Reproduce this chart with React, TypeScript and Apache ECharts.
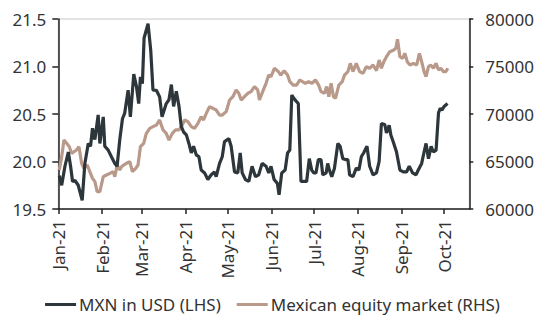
import React, { useEffect, useRef } from "react";
import * as echarts from "echarts";

// Day offsets from 1 Jan 2021 and values
const mxnDays = [0.7, 2.4, 4.7, 7.1, 8.7, 10.1, 11.8, 14.1, 16.9, 18.8, 21.2, 22.8, 24.2, 25.9, 28.2, 29.4, 31.8, 32.9, 35.3, 37.6, 40.0, 41.6, 43.5, 45.4, 47.0, 49.4, 51.0, 53.4, 55.3, 56.9, 58.1, 59.5, 60.7, 63.5, 65.4, 67.0, 69.4, 71.7, 73.4, 76.4, 78.3, 80.0, 81.6, 83.5, 85.4, 87.0, 88.7, 90.6, 92.4, 94.1, 95.7, 97.6, 99.5, 101.1, 103.5, 105.8, 108.2, 110.5, 111.7, 114.1, 116.0, 117.6, 120.7, 122.3, 124.7, 127.0, 128.7, 130.1, 132.4, 134.8, 137.1, 139.5, 141.8, 144.2, 147.0, 148.9, 150.5, 152.7, 155.0, 156.2, 158.1, 160.5, 162.2, 163.8, 165.2, 166.9, 168.6, 169.8, 171.7, 174.0, 175.7, 177.6, 179.3, 180.7, 182.3, 184.0, 185.9, 187.1, 189.5, 190.6, 191.8, 193.5, 195.4, 197.8, 199.4, 201.3, 203.2, 204.9, 206.1, 208.5, 210.8, 212.7, 214.4, 216.0, 218.4, 220.3, 222.7, 225.1, 227.0, 228.6, 231.0, 232.2, 234.1, 235.3, 236.9, 239.3, 241.7, 244.1, 246.4, 248.3, 250.7, 253.1, 254.7, 257.1, 258.8, 260.2, 261.9, 263.8, 265.4, 267.3, 269.0, 270.2, 271.4, 273.0, 275.4];
const mxnValues = [19.85, 19.75, 19.95, 20.1, 19.95, 19.79, 19.8, 19.75, 19.59, 19.98, 20.19, 20.16, 20.35, 20.23, 20.49, 20.19, 20.47, 20.16, 20.12, 20.05, 19.98, 19.95, 20.23, 20.45, 20.51, 20.75, 20.47, 20.92, 20.79, 20.61, 20.89, 20.82, 21.3, 21.45, 21.17, 20.75, 20.75, 20.68, 20.47, 20.61, 20.65, 20.81, 20.58, 20.74, 20.58, 20.37, 20.31, 20.28, 20.19, 20.09, 20.16, 20.07, 20.05, 19.91, 19.88, 19.81, 19.86, 19.89, 19.84, 19.98, 20.05, 20.21, 20.24, 20.16, 19.89, 19.88, 20.09, 19.88, 19.81, 19.79, 19.95, 19.84, 19.86, 19.98, 19.95, 19.88, 19.95, 19.81, 19.77, 19.65, 19.88, 19.91, 20.09, 20.12, 20.7, 20.66, 20.63, 20.61, 19.79, 19.79, 19.79, 20.03, 19.91, 19.88, 19.88, 20.02, 20.02, 19.86, 19.88, 19.98, 19.91, 19.84, 19.93, 20.19, 20.16, 20.03, 20.02, 20.02, 19.86, 19.84, 19.93, 19.91, 20.05, 20.09, 20.16, 19.95, 19.86, 19.88, 20.0, 20.4, 20.39, 20.3, 20.38, 20.28, 20.21, 20.1, 19.91, 19.89, 19.89, 19.95, 19.88, 19.86, 19.91, 19.98, 20.1, 20.19, 20.03, 20.16, 20.1, 20.12, 20.51, 20.56, 20.54, 20.58, 20.61];

const eqDays = [0.7, 2.4, 4.0, 5.9, 7.8, 9.4, 11.1, 12.9, 14.6, 16.5, 18.1, 20.5, 22.3, 24.2, 25.9, 27.5, 29.4, 31.8, 34.1, 36.5, 38.8, 40.0, 41.6, 43.5, 44.7, 46.3, 48.2, 50.6, 52.4, 54.8, 56.4, 58.1, 60.4, 62.3, 64.7, 67.0, 69.4, 71.7, 74.1, 76.4, 78.3, 80.7, 83.0, 85.4, 87.7, 89.4, 91.7, 94.1, 96.4, 98.8, 101.1, 102.8, 104.7, 107.0, 109.4, 111.7, 114.1, 116.0, 118.8, 121.2, 123.5, 125.8, 127.7, 129.4, 131.7, 134.1, 136.4, 138.8, 141.1, 142.3, 144.6, 147.0, 148.9, 150.5, 152.9, 155.7, 157.4, 159.8, 162.2, 163.8, 166.2, 168.6, 170.9, 172.8, 174.7, 177.1, 179.5, 181.9, 184.2, 185.9, 188.3, 189.9, 191.4, 193.0, 194.7, 196.1, 198.5, 200.9, 202.5, 204.9, 206.6, 208.5, 210.8, 213.2, 215.6, 217.9, 220.3, 222.7, 225.1, 227.0, 228.6, 230.3, 232.2, 234.6, 237.4, 238.8, 240.0, 241.7, 243.6, 245.2, 246.9, 248.8, 251.2, 253.6, 255.5, 257.1, 258.8, 260.2, 261.9, 263.5, 265.4, 267.3, 269.0, 270.6, 272.5, 274.2, 275.6];
const eqValues = [64100, 65510, 67260, 66910, 66560, 65860, 66030, 66210, 66560, 64810, 64280, 64630, 63930, 63230, 62880, 61820, 61820, 63400, 63580, 63750, 63930, 63400, 64630, 64100, 64450, 64630, 64810, 64980, 63930, 64280, 64630, 66560, 66910, 67960, 68490, 68670, 68840, 69370, 68320, 67960, 67260, 67960, 68320, 68320, 68840, 69370, 69190, 68670, 68490, 69020, 69720, 69370, 70070, 70770, 70600, 70420, 69890, 69890, 70250, 71470, 71820, 72530, 72180, 71470, 71820, 72180, 72350, 72880, 72530, 71470, 72350, 73230, 74100, 73930, 74810, 74460, 74100, 74560, 74100, 73400, 73050, 73050, 73580, 73400, 73230, 73400, 73230, 73580, 73050, 72350, 72180, 72880, 71820, 73230, 71820, 71650, 73050, 73400, 74100, 74460, 75330, 74460, 75330, 74460, 74280, 74980, 74810, 75160, 74560, 75680, 74810, 75510, 76030, 76560, 76740, 76910, 77860, 76030, 75860, 76390, 75510, 75160, 75330, 75160, 76390, 75510, 74460, 73930, 74980, 75160, 74810, 75330, 74630, 74810, 74460, 74460, 74810];

const seriesNames = ["MXN in USD (LHS)", "Mexican equity market (RHS)"];
const leftTicks = { min: 19.5, max: 21.5, interval: 0.5 };
const rightTicks = { min: 60000, max: 80000, interval: 5000 };
const axisEndDay = 290.8;

const DAY = 86400000;
const T0 = new Date(2021, 0, 1).getTime();
const toPairs = (days: number[], vals: number[]) => days.map((d, i) => [T0 + d * DAY, vals[i]]);

const FONT = "Noto Sans";
const TXT = "#333333";
const AXIS = "#222222";

export default function App() {
  const ref = useRef<HTMLDivElement>(null);
  useEffect(() => {
    if (!ref.current) return;
    const chart = echarts.init(ref.current, undefined, { renderer: "svg" });
    chart.setOption({
      animation: false,
      textStyle: { fontFamily: FONT },
      grid: { left: 58.3, right: 75.7, top: 19, bottom: 116, show: true, borderColor: "#c8c8c8", borderWidth: 1 },
      legend: {
        data: seriesNames,
        left: "center",
        top: 291,
        icon: "rect",
        itemWidth: 31,
        itemHeight: 3,
        itemGap: 16,
        textStyle: { fontFamily: FONT, fontSize: 17, color: TXT, padding: [0, 0, 0, -2] },
      },
      xAxis: {
        type: "time",
        min: T0,
        max: T0 + axisEndDay * DAY,
        splitNumber: 10,
        axisLine: { show: true, lineStyle: { color: AXIS, width: 1.5 } },
        axisTick: { show: true, length: 5, lineStyle: { color: AXIS, width: 1.5 } },
        splitLine: { show: false },
        minorTick: { show: false },
        axisLabel: { rotate: 90, formatter: "{MMM}-{yy}", margin: 11, fontSize: 17, color: TXT, fontFamily: FONT, hideOverlap: false },
      },
      yAxis: [
        {
          type: "value",
          position: "left",
          ...leftTicks,
          axisLine: { show: true, lineStyle: { color: AXIS, width: 1.5 } },
          axisTick: { show: true, length: 6, lineStyle: { color: AXIS, width: 1.5 } },
          splitLine: { show: false },
          axisLabel: { formatter: (v: number) => v.toFixed(1), margin: 12, fontSize: 17, color: TXT, fontFamily: FONT },
        },
        {
          type: "value",
          position: "right",
          ...rightTicks,
          axisLine: { show: true, lineStyle: { color: AXIS, width: 1.5 } },
          axisTick: { show: true, length: 4, lineStyle: { color: AXIS, width: 1.5 } },
          splitLine: { show: false },
          axisLabel: { formatter: (v: number) => String(v), margin: 16, fontSize: 17, color: TXT, fontFamily: FONT },
        },
      ],
      series: [
        {
          name: seriesNames[0],
          type: "line",
          yAxisIndex: 0,
          data: toPairs(mxnDays, mxnValues),
          showSymbol: false,
          color: "#2d363b",
          lineStyle: { width: 3.2, color: "#2d363b" },
          z: 3,
        },
        {
          name: seriesNames[1],
          type: "line",
          yAxisIndex: 1,
          data: toPairs(eqDays, eqValues),
          showSymbol: false,
          color: "#b9998a",
          lineStyle: { width: 3.2, color: "#b9998a" },
          z: 2,
        },
      ],
    });
    return () => chart.dispose();
  }, []);
  return <div ref={ref} style={{ width: 545, height: 325, position: "absolute", left: 0, top: 0 }} />;
}
